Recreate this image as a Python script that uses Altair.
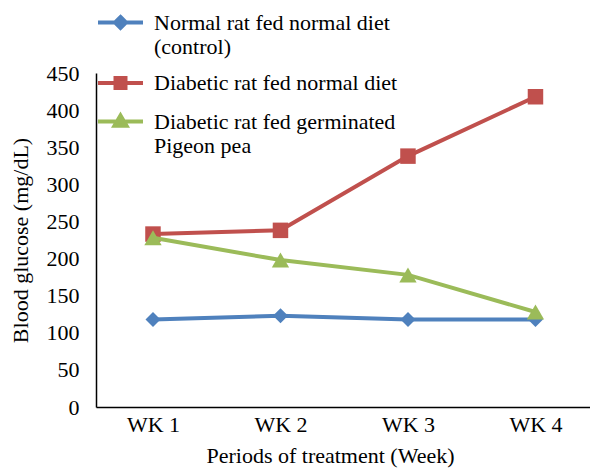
import altair as alt
import pandas as pd

weeks = ["WK 1", "WK 2", "WK 3", "WK 4"]
label_lines = [
    ["Normal rat fed normal diet", "(control)"],
    ["Diabetic rat fed normal diet"],
    ["Diabetic rat fed germinated", "Pigeon pea"],
]
series = [" ".join(l) for l in label_lines]
normal_diet = [118, 123, 118, 118]
diabetic_normal = [233, 238, 338, 418]
diabetic_pigeon = [228, 198, 178, 128]
values = [normal_diet, diabetic_normal, diabetic_pigeon]
colors = ["#4F81BD", "#C0504D", "#9BBB59"]
marker_shapes = ["diamond", "square", "triangle-up"]
marker_sizes = [225, 240, 300]
y_ticks = list(range(0, 451, 50))

FONT = "Liberation Serif"
FS = 22

rows = []
for s, vals in zip(series, values):
    for w, v in zip(weeks, vals):
        rows.append({"week": w, "series": s, "value": v})
df = pd.DataFrame(rows)

# legend symbols: line segment + marker
U = 22.5  # half width of symbol in px (symbolSize 2025)


def sym_path(kind):
    f = lambda v: f"{v:.3f}"
    p = "M-1,0L1,0"
    if kind == "diamond":
        r = 5.5 / U
        p += f"M0,{f(-r)}L{f(r)},0L0,{f(r)}L{f(-r)},0Z"
    elif kind == "square":
        r = 5.0 / U
        p += f"M{f(-r)},{f(-r)}L{f(r)},{f(-r)}L{f(r)},{f(r)}L{f(-r)},{f(r)}Z"
    else:
        r = 6.0 / U
        p += f"M0,{f(-r)}L{f(r)},{f(0.7 * r)}L{f(-r)},{f(0.7 * r)}Z"
    return p


legend_paths = [sym_path(k) for k in marker_shapes]

label_expr = ""
for s, l in zip(series, label_lines):
    if len(l) > 1:
        arr = "[" + ",".join("'" + t + "'" for t in l) + "]"
        label_expr += f"datum.label == '{s}' ? {arr} : "
label_expr += "datum.label"

x_enc = alt.X(
    "week:O",
    scale=alt.Scale(type="point", domain=weeks, padding=0.4373, align=0.511),
    axis=alt.Axis(
        title="Periods of treatment (Week)",
        labelAngle=0,
        ticks=False,
        tickSize=0,
        labelPadding=7,
        titlePadding=10,
        titleX=234,
    ),
)
y_enc = alt.Y(
    "value:Q",
    scale=alt.Scale(domain=[0, 450], nice=False),
    axis=alt.Axis(
        title="Blood glucose (mg/dL)",
        values=y_ticks,
        ticks=False,
        tickSize=0,
        grid=False,
        labelPadding=17,
        titlePadding=14,
    ),
)

color_scale = alt.Scale(domain=series, range=colors)

leg = alt.Legend(
    title=None,
    orient="none",
    legendX=0,
    legendY=-75,
    labelFont=FONT,
    labelFontSize=FS,
    labelColor="black",
    labelLimit=600,
    labelOffset=9,
    labelExpr=label_expr,
    symbolSize=2025,
    symbolStrokeWidth=4,
    rowPadding=0.5,
    padding=0,
)

layers = []
for i, s in enumerate(series):
    base = alt.Chart(df).transform_filter(alt.datum.series == s)
    layers.append(
        base.mark_line(strokeWidth=4).encode(
            x=x_enc, y=y_enc,
            stroke=alt.Stroke("series:N", scale=color_scale, legend=leg),
        )
    )
    layers.append(
        base.mark_point(shape=marker_shapes[i], filled=True, size=marker_sizes[i], opacity=1).encode(
            x=x_enc, y=y_enc,
            fill=alt.Fill("series:N", scale=color_scale, legend=leg),
        )
    )

legend_layer = (
    alt.Chart(df)
    .transform_filter("false")
    .mark_point(filled=True, strokeWidth=4, opacity=1)
    .encode(
        x=x_enc,
        y=y_enc,
        fill=alt.Fill("series:N", scale=color_scale, legend=leg),
        stroke=alt.Stroke("series:N", scale=color_scale, legend=leg),
        shape=alt.Shape("series:N", scale=alt.Scale(domain=series, range=legend_paths), legend=leg),
    )
)
layers.append(legend_layer)

chart = (
    alt.layer(*layers)
    .properties(
        width=494,
        height=334,
        autosize=alt.AutoSizeParams(type="none"),
        padding={"left": 88, "top": 65, "right": 0, "bottom": 62},
    )
    .configure_view(stroke=None)
    .configure_axis(
        labelFont=FONT,
        titleFont=FONT,
        labelFontSize=FS,
        titleFontSize=FS,
        titleFontWeight="normal",
        labelColor="black",
        titleColor="black",
        domainColor="black",
        domainWidth=1.5,
    )
)

chart.save("out.html", embed_options={"renderer": "svg", "actions": False})
